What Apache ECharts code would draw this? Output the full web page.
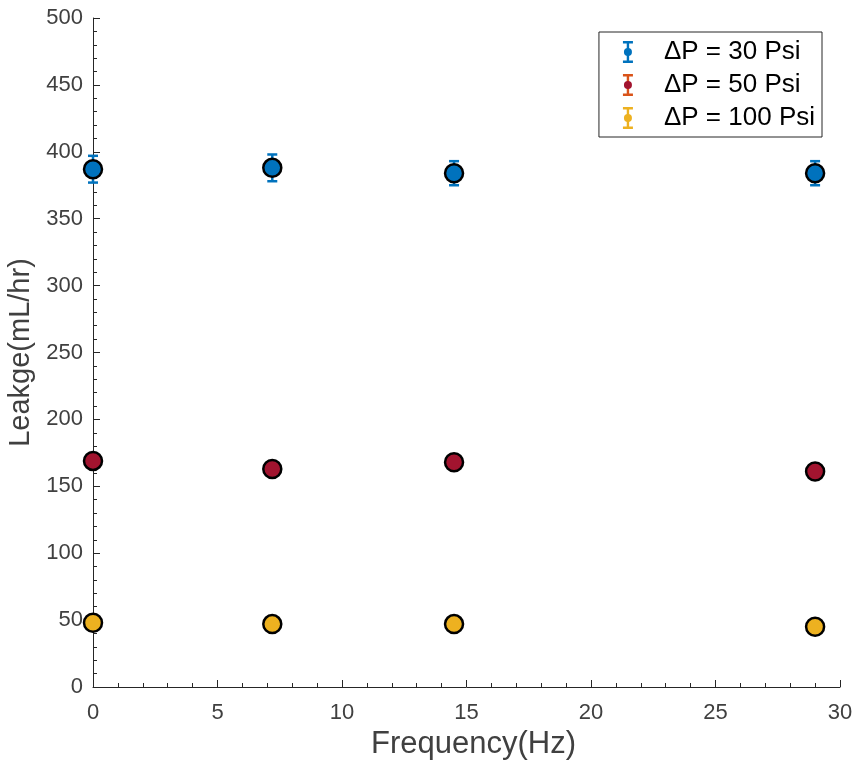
<!DOCTYPE html>
<html>
<head>
<meta charset="utf-8">
<script src="https://cdn.jsdelivr.net/npm/echarts@6/dist/echarts.min.js"></script>
<style>
  html, body { margin: 0; padding: 0; background: #fff; }
  #main { width: 852px; height: 767px; }
</style>
</head>
<body>
<div id="main"></div>
<script>
// 频率 (Hz)
let freq = [0, 7.2, 14.5, 29];
// 泄漏量及误差
let leak30 = [387, 388, 384, 384];
let err30 = [10, 10, 9, 9];
let leak50 = [169, 163, 168, 161];
let err50 = [3, 3, 3, 3];
let leak100 = [48, 47, 47, 45];
let err100 = [1.5, 1.5, 1.5, 1.5];
let names = ['ΔP = 30 Psi', 'ΔP = 50 Psi', 'ΔP = 100 Psi'];

let barColors = ['#0072BD', '#D95319', '#EDB120'];
let dotColors = ['#0072BD', '#A2142F', '#EDB120'];
let textColor = '#404040';
let lineColor = '#262626';
let fontName = 'Liberation Sans, Arial, sans-serif';

let myChart = echarts.init(document.getElementById('main'));

function points(ys) {
    return freq.map(function (f, i) { return [f, ys[i]]; });
}

function errRange(ys, es) {
    return freq.map(function (f, i) { return [f, ys[i] - es[i], ys[i] + es[i]]; });
}

function renderErr(params, api) {
    let x = api.value(0);
    let top = api.coord([x, api.value(2)]);
    let bot = api.coord([x, api.value(1)]);
    let hw = 5;
    let style = { stroke: api.visual('color'), lineWidth: 2.5 };
    return {
        type: 'group',
        children: [
            { type: 'line', shape: { x1: top[0], y1: top[1], x2: bot[0], y2: bot[1] }, style: style },
            { type: 'line', shape: { x1: top[0] - hw, y1: top[1], x2: top[0] + hw, y2: top[1] }, style: style },
            { type: 'line', shape: { x1: bot[0] - hw, y1: bot[1], x2: bot[0] + hw, y2: bot[1] }, style: style }
        ]
    };
}

let groups = [[leak30, err30], [leak50, err50], [leak100, err100]];
let series = [];
groups.forEach(function (g, i) {
    series.push({
        name: names[i],
        type: 'custom',
        renderItem: renderErr,
        itemStyle: { color: barColors[i] },
        encode: { x: 0, y: [1, 2] },
        data: errRange(g[0], g[1]),
        z: 2
    });
    series.push({
        name: names[i],
        type: 'scatter',
        symbol: 'circle',
        symbolSize: 18,
        clip: false,
        itemStyle: { color: dotColors[i], borderColor: '#000', borderWidth: 2.5, opacity: 1 },
        data: points(g[0]),
        z: 3
    });
});

let barIcon = 'path://M0,0 H10 V2.5 H6.2 V19.5 H10 V22 H0 V19.5 H3.8 V2.5 H0 Z';

let legendBase = {
    orient: 'vertical',
    right: 30,
    top: 32,
    itemWidth: 40,
    itemHeight: 22,
    itemGap: 7,
    padding: [7, 7, 6, 24],
    selectedMode: false,
    textStyle: {
        fontFamily: fontName,
        fontSize: 26,
        color: '#000',
        padding: [0, 0, 0, 11]
    }
};

let option = {
    animation: false,
    backgroundColor: '#fff',
    grid: { left: 93, right: 12, top: 18, bottom: 80, outerBoundsMode: 'none' },
    legend: [
        Object.assign({}, legendBase, {
            borderColor: lineColor,
            borderWidth: 1,
            data: names.map(function (n, i) {
                return { name: n, icon: barIcon, itemStyle: { color: barColors[i] } };
            })
        }),
        Object.assign({}, legendBase, {
            borderWidth: 0,
            textStyle: Object.assign({}, legendBase.textStyle, { color: 'rgba(0,0,0,0)' }),
            data: names.map(function (n, i) {
                return { name: n, icon: 'circle', itemStyle: { color: dotColors[i], borderWidth: 0 } };
            }),
            itemHeight: 8
        })
    ],
    xAxis: {
        type: 'value',
        min: 0,
        max: 30,
        interval: 5,
        name: 'Frequency(Hz)',
        nameLocation: 'middle',
        nameGap: 42,
        nameTextStyle: { fontFamily: fontName, fontSize: 31, color: textColor, padding: [0, 0, 0, 14] },
        axisLine: { show: true, lineStyle: { color: lineColor, width: 1 } },
        axisTick: { show: true, inside: true, length: 7, lineStyle: { color: lineColor } },
        minorTick: { show: true, splitNumber: 5, length: 4, lineStyle: { color: lineColor } },
        axisLabel: { fontFamily: fontName, fontSize: 22, color: textColor, margin: 15 },
        splitLine: { show: false }
    },
    yAxis: {
        type: 'value',
        min: 0,
        max: 500,
        interval: 50,
        name: 'Leakge(mL/hr)',
        nameLocation: 'middle',
        nameGap: 52,
        nameTextStyle: { fontFamily: fontName, fontSize: 29, color: textColor },
        axisLine: { show: true, lineStyle: { color: lineColor, width: 1 } },
        axisTick: { show: true, inside: true, length: 7, lineStyle: { color: lineColor } },
        minorTick: { show: true, splitNumber: 5, length: 4, lineStyle: { color: lineColor } },
        axisLabel: { fontFamily: fontName, fontSize: 22, color: textColor, margin: 10 },
        splitLine: { show: false }
    },
    series: series
};

myChart.setOption(option);
</script>
</body>
</html>
